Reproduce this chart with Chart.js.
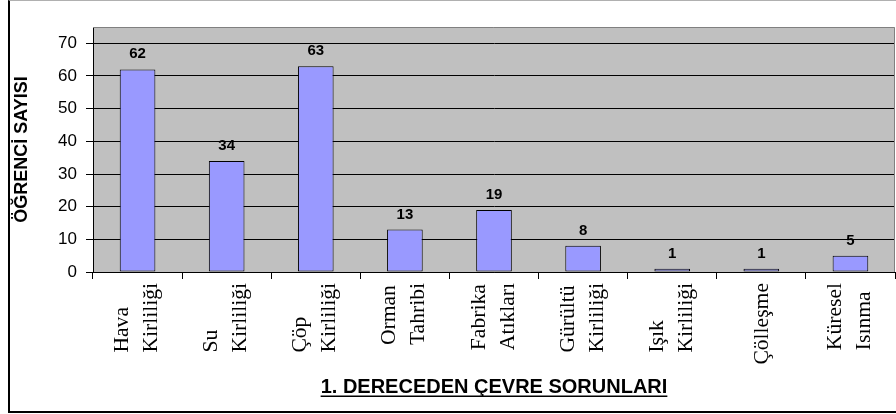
<!DOCTYPE html>
<html lang="tr">
<head>
    <meta charset="UTF-8">
    <title>1. Dereceden Çevre Sorunları</title>
    <style>
        body {
            margin: 0;
            background-color: #fff;
            overflow: hidden;
        }
        .chart-box {
            position: absolute;
            left: 8px;
            top: 0;
            width: 886px;
            height: 410px;
            border-left: 2px solid #000;
            border-bottom: 2px solid #000;
            border-top: 1px solid #b0b0b0;
        }
        canvas {
            display: block;
        }
    </style>
    <script src="https://cdn.jsdelivr.net/npm/chart.js"></script>
</head>
<body>
    <div class="chart-box">
        <canvas id="grafik" width="886" height="410"></canvas>
    </div>

    <script>
        // veriler
        const kategoriler = [
            ['Hava', 'Kirliliği'],
            ['Su', 'Kirliliği'],
            ['Çöp', 'Kirliliği'],
            ['Orman', 'Tahribi'],
            ['Fabrika', 'Atıkları'],
            ['Gürültü', 'Kirliliği'],
            ['Işık', 'Kirliliği'],
            ['Çölleşme'],
            ['Küresel', 'Isınma']
        ];
        const ogrenciSayisi = [62, 34, 63, 13, 19, 8, 1, 1, 5];
        const yEtiketleri = [0, 10, 20, 30, 40, 50, 60, 70];
        const yBaslik = 'ÖĞRENCİ SAYISI';
        const xBaslik = '1. DERECEDEN ÇEVRE SORUNLARI';

        const SANS = '"Liberation Sans", Arial, sans-serif';
        const SERIF = '"Liberation Serif", "Times New Roman", serif';
        const UZAT = 1.08; // döndürülmüş yazılar biraz uzun

        const ciz = {
            id: 'ciz',
            beforeDraw(chart) {
                const { ctx, chartArea: a } = chart;
                ctx.save();
                ctx.fillStyle = '#c0c0c0';
                ctx.fillRect(a.left, a.top, a.right - a.left, a.bottom - a.top);
                ctx.restore();
            },
            afterDraw(chart) {
                const { ctx, chartArea: a } = chart;
                const x = chart.scales.x;
                ctx.save();

                // alan çerçevesi (üst ve sağ)
                ctx.strokeStyle = '#808080';
                ctx.lineWidth = 1;
                ctx.beginPath();
                ctx.moveTo(a.left, a.top + 0.5);
                ctx.lineTo(a.right - 0.5, a.top + 0.5);
                ctx.lineTo(a.right - 0.5, a.bottom);
                ctx.stroke();

                // değer etiketleri
                ctx.fillStyle = '#000';
                ctx.font = 'bold 15px ' + SANS;
                ctx.textAlign = 'center';
                ctx.textBaseline = 'alphabetic';
                chart.getDatasetMeta(0).data.forEach((bar, i) => {
                    ctx.fillText(String(ogrenciSayisi[i]), bar.x, bar.y - 11);
                });

                // kategori yazıları (dikey)
                ctx.font = '20px ' + SERIF;
                ctx.textAlign = 'left';
                kategoriler.forEach((satirlar, i) => {
                    const cx = x.getPixelForValue(i);
                    const enUzun = Math.max(...satirlar.map(t => ctx.measureText(t).width));
                    ctx.save();
                    ctx.translate(cx, a.bottom + 11);
                    ctx.rotate(-Math.PI / 2);
                    ctx.scale(UZAT, 1);
                    satirlar.forEach((t, j) => {
                        let kay = 0;
                        if (satirlar.length > 1) kay = j === 0 ? -16 : 13;
                        ctx.fillText(t, -enUzun, kay + 6.5);
                    });
                    ctx.restore();
                });

                // x başlığı (altı çizili)
                ctx.font = 'bold 20px ' + SANS;
                ctx.textAlign = 'center';
                const orta = (a.left + a.right) / 2;
                ctx.fillText(xBaslik, orta, 392);
                const g = ctx.measureText(xBaslik).width;
                ctx.fillRect(orta - g / 2, 394.5, g, 1.5);

                ctx.restore();
            }
        };

        new Chart(document.getElementById('grafik').getContext('2d'), {
            type: 'bar',
            data: {
                labels: kategoriler,
                datasets: [{
                    label: yBaslik,
                    data: ogrenciSayisi,
                    backgroundColor: '#9999ff',
                    borderColor: '#000',
                    borderWidth: 1,
                    borderSkipped: false,
                    barPercentage: 0.4,
                    categoryPercentage: 1
                }]
            },
            options: {
                responsive: false,
                animation: false,
                devicePixelRatio: 1,
                layout: {
                    padding: { top: 26, right: 1, bottom: 0, left: 0 }
                },
                plugins: {
                    legend: { display: false },
                    tooltip: { enabled: false }
                },
                scales: {
                    x: {
                        offset: true,
                        ticks: { display: false },
                        grid: {
                            offset: true,
                            drawOnChartArea: false,
                            drawTicks: true,
                            tickLength: 7,
                            color: '#000'
                        },
                        border: { color: '#000', width: 1 },
                        afterFit(scale) { scale.height = 139; }
                    },
                    y: {
                        min: 0,
                        max: 75,
                        afterBuildTicks(scale) {
                            scale.ticks = yEtiketleri.map(v => ({ value: v }));
                        },
                        ticks: {
                            color: '#000',
                            padding: 9,
                            font: { family: SANS, size: 17 }
                        },
                        grid: {
                            color: '#000',
                            lineWidth: 1,
                            tickLength: 7
                        },
                        border: { color: '#000', width: 1 },
                        title: {
                            display: true,
                            text: yBaslik,
                            color: '#000',
                            padding: { top: 1, bottom: 0 },
                            font: { family: SANS, size: 18, weight: 'bold' }
                        },
                        afterFit(scale) { scale.width = 83; }
                    }
                }
            },
            plugins: [ciz]
        });
    </script>
</body>
</html>
